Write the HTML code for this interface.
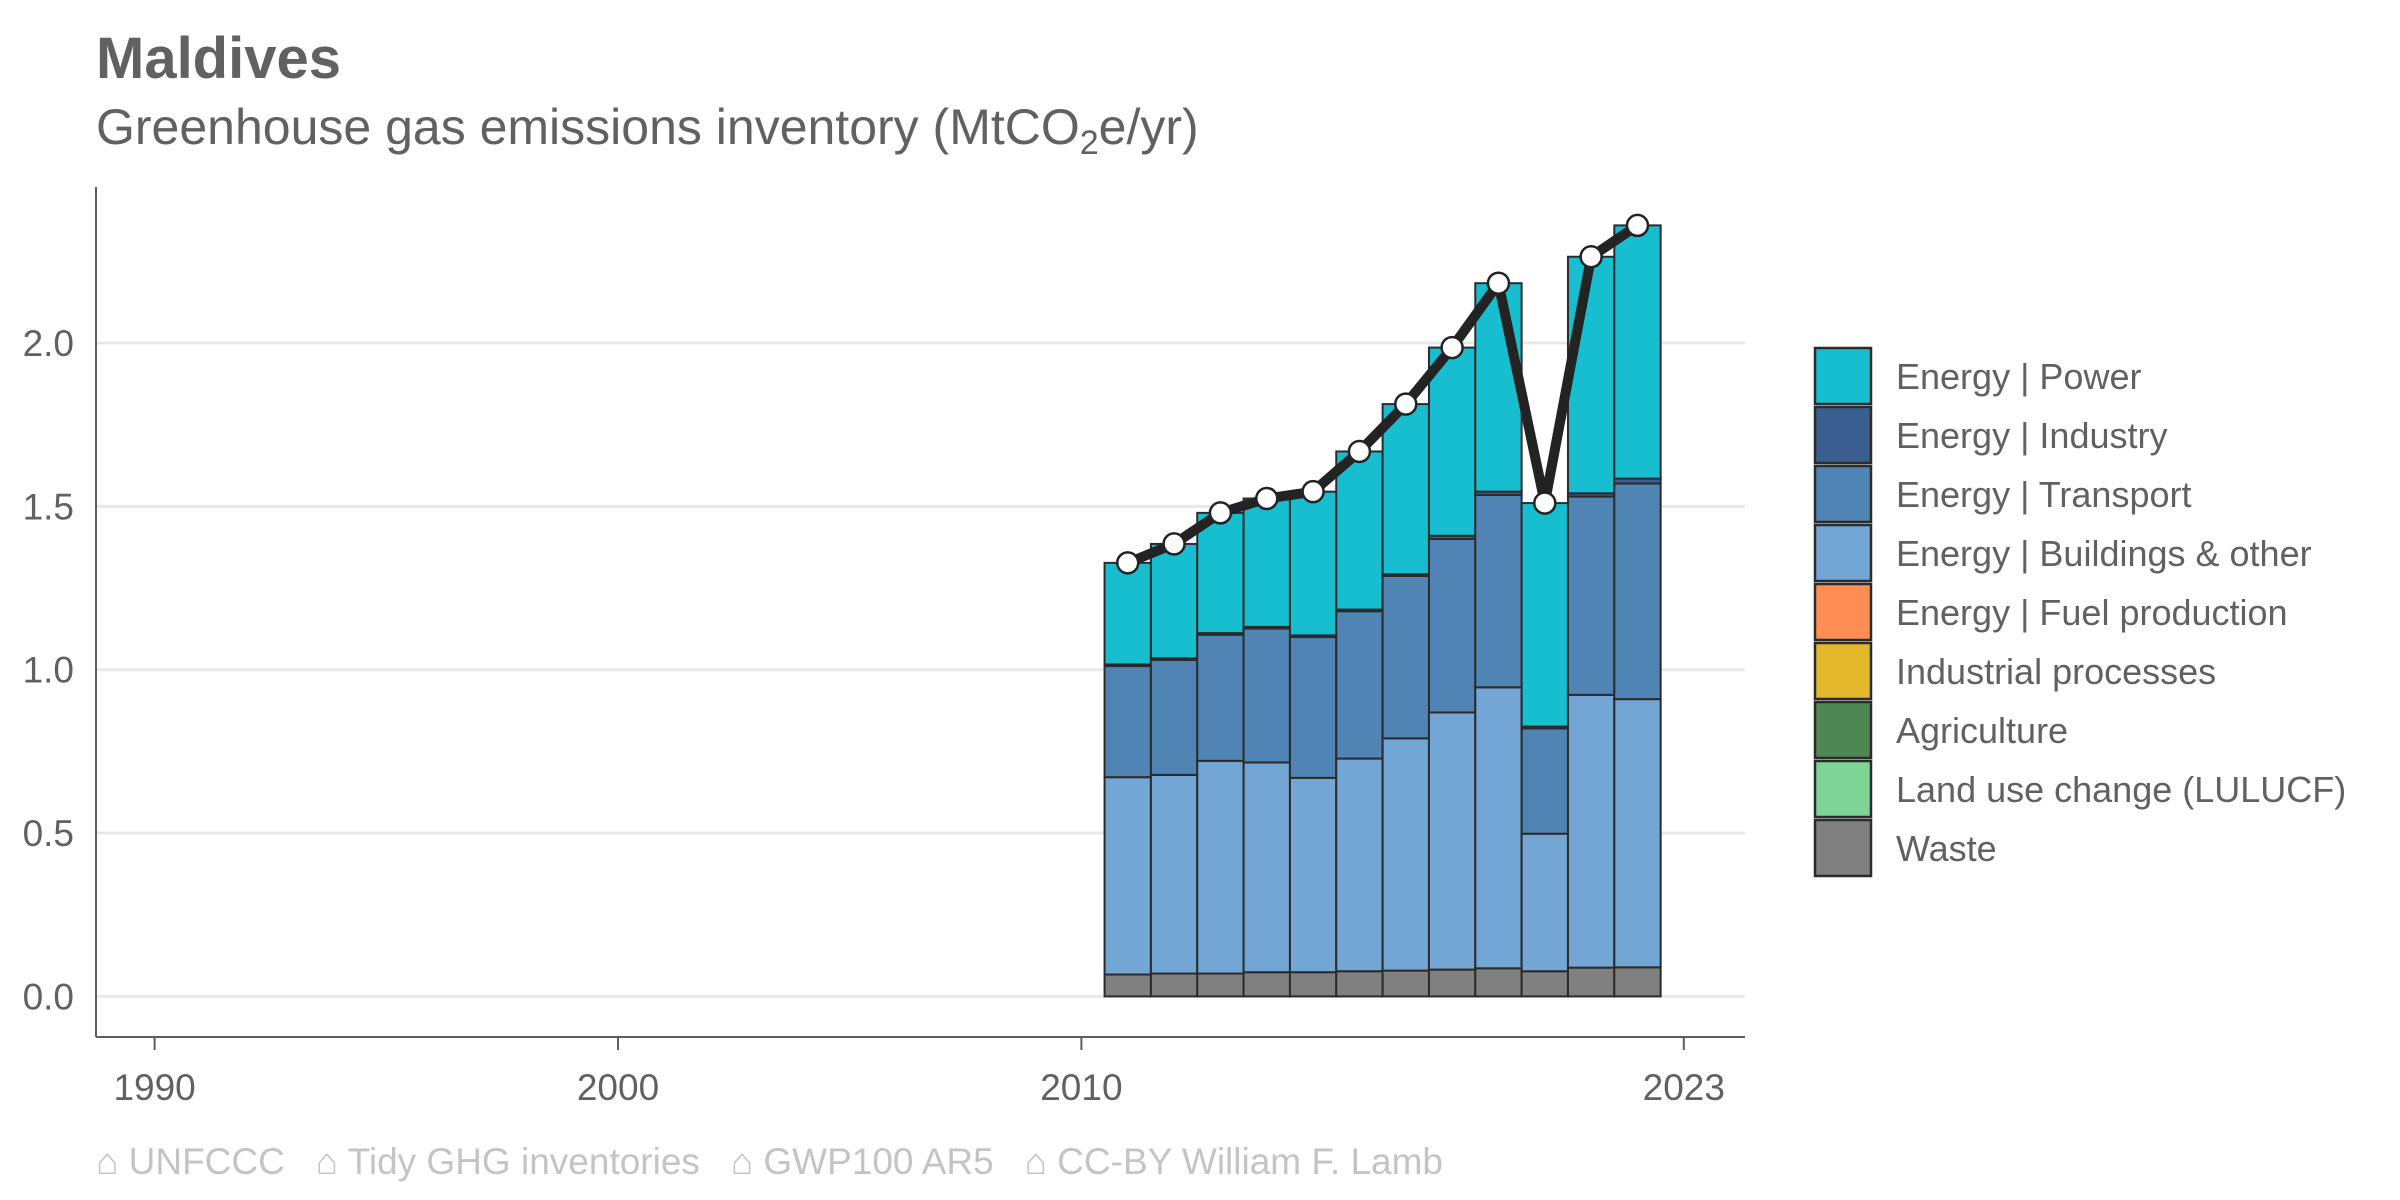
<!DOCTYPE html>
<html><head><meta charset="utf-8"><style>
html,body{margin:0;padding:0;background:#fff}
svg{display:block;font-family:"Liberation Sans",Arial,sans-serif}
</style></head><body>
<svg id="chart" width="2400" height="1200" viewBox="0 0 2400 1200">
<text x="96" y="78" font-size="58" font-weight="bold" fill="#616161">Maldives</text>
<text x="96" y="144" font-size="50" fill="#616161">Greenhouse gas emissions inventory (MtCO<tspan font-size="34" dy="10">2</tspan><tspan dy="-10">e/yr)</tspan></text>
<g id="grid"></g>
<g id="bars"></g>
<g id="line"></g>
<g id="axes"></g>
<g id="legend"></g>
<text x="96" y="1174" font-size="37" fill="#c4c4c4" xml:space="preserve">⌂ UNFCCC   ⌂ Tidy GHG inventories   ⌂ GWP100 AR5   ⌂ CC-BY William F. Lamb</text>
</svg>
<script>
const years = [2011,2012,2013,2014,2015,2016,2017,2018,2019,2020,2021,2022];
const waste = [0.067,0.070,0.070,0.074,0.074,0.077,0.079,0.082,0.086,0.077,0.088,0.089];
const buildings = [0.604,0.608,0.651,0.642,0.595,0.651,0.711,0.787,0.860,0.421,0.835,0.821];
const transport = [0.340,0.352,0.386,0.410,0.431,0.451,0.497,0.531,0.589,0.322,0.607,0.660];
const industry = [0.005,0.005,0.005,0.005,0.005,0.005,0.005,0.010,0.010,0.006,0.010,0.015];
const power = [0.311,0.350,0.368,0.393,0.440,0.484,0.521,0.576,0.638,0.684,0.724,0.775];
const totals = [1.327,1.385,1.480,1.524,1.545,1.668,1.813,1.986,2.183,1.510,2.264,2.360];
const yTicks = [0,0.5,1.0,1.5,2.0];
const yTickLabels = ["0.0","0.5","1.0","1.5","2.0"];
const xTicks = [1990,2000,2010,2023];
const legendLabels = ["Energy | Power","Energy | Industry","Energy | Transport","Energy | Buildings & other","Energy | Fuel production","Industrial processes","Agriculture","Land use change (LULUCF)","Waste"];
const legendColors = ["#17BECF","#3A5E8F","#4F84B5","#73A6D4","#FF8E55","#E2B72A","#4E8753","#7ED497","#808080"];

const NS="http://www.w3.org/2000/svg";
const X0=96,X1=1745,Y0=187,YB=1037;
const xs=y=>154.6+(y-1990)*46.34;
const ys=v=>996.4-v*326.7;
function mk(tag,attrs,parent){const e=document.createElementNS(NS,tag);for(const k in attrs)e.setAttribute(k,attrs[k]);parent.appendChild(e);return e;}
const grid=document.getElementById('grid'),bars=document.getElementById('bars'),line=document.getElementById('line'),axes=document.getElementById('axes'),legend=document.getElementById('legend');

yTicks.forEach((t,i)=>{
  const g=mk('line',{x1:X0,x2:X1,y1:ys(t),y2:ys(t),stroke:'#e8e8e8','stroke-width':3},grid);
  
  
  const tx=mk('text',{x:74,y:ys(t)+13,'font-size':37,fill:'#616161','text-anchor':'end'},axes);
  tx.textContent=yTickLabels[i];
  
  
});

const layers=[[waste,'#808080'],[buildings,'#73A6D4'],[transport,'#4F84B5'],[industry,'#3A5E8F'],[power,'#17BECF']];
years.forEach((yr,i)=>{
  let base=0;
  layers.forEach(([arr,col])=>{
    const v=arr[i];
    const r=mk('rect',{x:xs(yr)-23.17,width:46.34,y:ys(base+v),height:ys(base)-ys(base+v),fill:col,stroke:'#2b2b2b','stroke-width':2},bars);
    
    
    base+=v;
  });
});

const pts=years.map((yr,i)=>xs(yr)+','+ys(totals[i])).join(' ');
const pl=mk('polyline',{points:pts,fill:'none',stroke:'#232323','stroke-width':10,'stroke-linejoin':'round'},line);


years.forEach((yr,i)=>{
  const c=mk('circle',{cx:xs(yr),cy:ys(totals[i]),r:10.5,fill:'#fff',stroke:'#232323','stroke-width':2.5},line);
  
  
});

const ya=mk('line',{x1:X0,x2:X0,y1:Y0,y2:YB,stroke:'#5e5e5e','stroke-width':2},axes);


const xa=mk('line',{x1:X0,x2:X1,y1:YB,y2:YB,stroke:'#5e5e5e','stroke-width':2},axes);


xTicks.forEach(t=>{
  const tk=mk('line',{x1:xs(t),x2:xs(t),y1:YB,y2:YB+13,stroke:'#5e5e5e','stroke-width':2},axes);
  
  
  const tx=mk('text',{x:xs(t),y:1100,'font-size':37,fill:'#616161','text-anchor':'middle'},axes);
  tx.textContent=t;
  
  
});

legendLabels.forEach((lab,i)=>{
  const y=348+i*59;
  const r=mk('rect',{x:1815,y:y,width:56,height:56,fill:legendColors[i],stroke:'#2b2b2b','stroke-width':2.5},legend);
  
  
  const t=mk('text',{x:1896,y:y+41,'font-size':36,fill:'#616161'},legend);
  t.textContent=lab;
  
  
});
</script>
</body></html>
